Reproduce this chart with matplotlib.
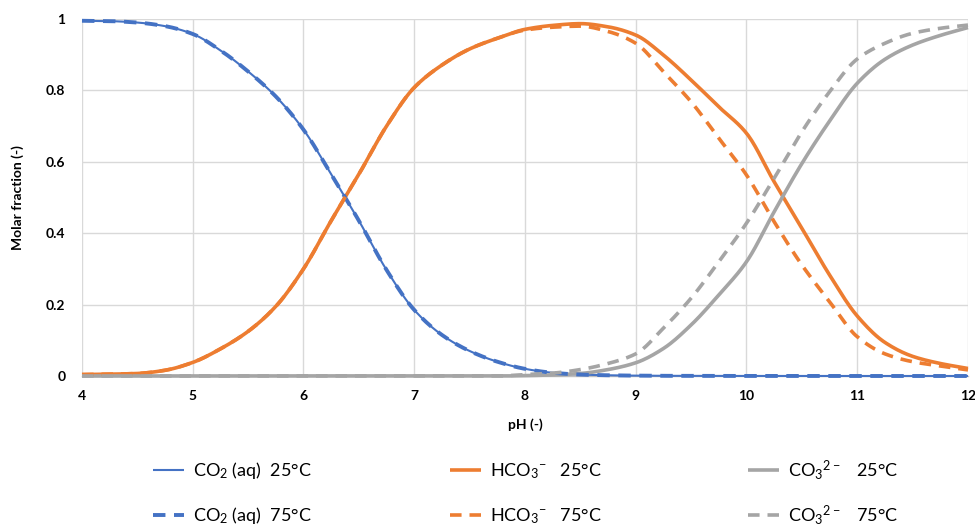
import numpy as np
import matplotlib
matplotlib.use("Agg")
import matplotlib.pyplot as plt
from matplotlib.lines import Line2D

plt.rcParams['font.family'] = ['Lato', 'DejaVu Sans']
plt.rcParams['mathtext.default'] = 'regular'

pH = [4.0, 4.25, 4.5, 4.75, 5.0, 5.25, 5.5, 5.75, 6.0, 6.25, 6.5, 6.75, 7.0, 7.25, 7.5, 7.75,
      8.0, 8.25, 8.5, 8.75, 9.0, 9.25, 9.5, 9.75, 10.0, 10.25, 10.5, 10.75, 11.0, 11.25, 11.5, 11.75, 12.0]

co2_25 = [0.995, 0.994, 0.99, 0.98, 0.958, 0.912, 0.853, 0.783, 0.69, 0.565, 0.435, 0.297, 0.185, 0.115, 0.07, 0.04,
          0.02, 0.009, 0.004, 0.002, 0.001, 0.0005, 0.0003, 0.0002, 0.0001, 0.0, 0.0, 0.0, 0.0, 0.0, 0.0, 0.0, 0.0]
co2_75 = [0.995, 0.994, 0.99, 0.98, 0.958, 0.912, 0.853, 0.783, 0.69, 0.565, 0.435, 0.297, 0.185, 0.115, 0.07, 0.04,
          0.02, 0.009, 0.004, 0.002, 0.001, 0.0005, 0.0003, 0.0002, 0.0001, 0.0, 0.0, 0.0, 0.0, 0.0, 0.0, 0.0, 0.0]
hco3_25 = [0.004, 0.005, 0.007, 0.016, 0.038, 0.076, 0.125, 0.195, 0.30, 0.435, 0.565, 0.70, 0.808, 0.871, 0.916, 0.946,
           0.971, 0.982, 0.987, 0.978, 0.955, 0.899, 0.829, 0.754, 0.68, 0.544, 0.414, 0.283, 0.168, 0.094, 0.055, 0.035, 0.021]
hco3_75 = [0.004, 0.005, 0.007, 0.016, 0.038, 0.076, 0.125, 0.195, 0.30, 0.435, 0.565, 0.70, 0.808, 0.871, 0.916, 0.946,
           0.969, 0.977, 0.98, 0.965, 0.932, 0.852, 0.768, 0.666, 0.563, 0.432, 0.311, 0.208, 0.11, 0.062, 0.04, 0.028, 0.017]
co3_25 = [0.0, 0.0, 0.0, 0.0, 0.0, 0.0, 0.0, 0.0, 0.0, 0.0, 0.0, 0.0, 0.0, 0.0, 0.0, 0.0,
          0.001, 0.003, 0.007, 0.018, 0.037, 0.077, 0.143, 0.227, 0.32, 0.46, 0.595, 0.714, 0.82, 0.887, 0.927, 0.954, 0.976]
co3_75 = [0.0, 0.0, 0.0, 0.0, 0.0, 0.0, 0.0, 0.0, 0.0, 0.0, 0.0, 0.0, 0.0, 0.0, 0.0, 0.0,
          0.004, 0.008, 0.018, 0.035, 0.062, 0.134, 0.218, 0.32, 0.428, 0.554, 0.684, 0.796, 0.888, 0.932, 0.96, 0.974, 0.983]

labels = ["CO$_2$ (aq)  25°C", "CO$_2$ (aq)  75°C",
          "HCO$_3$$^{-}$   25°C", "HCO$_3$$^{-}$   75°C",
          "CO$_3$$^{2-}$   25°C", "CO$_3$$^{2-}$   75°C"]
x_ticks = [4, 5, 6, 7, 8, 9, 10, 11, 12]
y_ticks = [0, 0.2, 0.4, 0.6, 0.8, 1]
y_tick_labels = ["0", "0.2", "0.4", "0.6", "0.8", "1"]

BLUE = "#4472C4"
ORANGE = "#ED7D31"
GRAY = "#A5A5A5"


def smooth(x, y, n=16):
    """Monotone cubic (Fritsch-Carlson) rendering of a smoothed line through the data points."""
    x = np.asarray(x, float)
    y = np.asarray(y, float)
    h = np.diff(x)
    d = np.diff(y) / h
    m = np.zeros_like(y)
    m[0], m[-1] = d[0], d[-1]
    for k in range(1, len(y) - 1):
        if d[k - 1] * d[k] <= 0:
            m[k] = 0.0
        else:
            w1 = 2 * h[k] + h[k - 1]
            w2 = h[k] + 2 * h[k - 1]
            m[k] = (w1 + w2) / (w1 / d[k - 1] + w2 / d[k])
    xs, ys = [], []
    t = np.linspace(0, 1, n, endpoint=False)
    for k in range(len(x) - 1):
        h00 = 2 * t ** 3 - 3 * t ** 2 + 1
        h10 = t ** 3 - 2 * t ** 2 + t
        h01 = -2 * t ** 3 + 3 * t ** 2
        h11 = t ** 3 - t ** 2
        xs.extend(x[k] + t * h[k])
        ys.extend(h00 * y[k] + h10 * h[k] * m[k] + h01 * y[k + 1] + h11 * h[k] * m[k + 1])
    xs.append(x[-1])
    ys.append(y[-1])
    return np.array(xs), np.clip(np.array(ys), 0, 1)


W, H = 975, 526
fig = plt.figure(figsize=(W / 100, H / 100), dpi=100)
ax = fig.add_axes([0.0841, 0.2852, 0.9087, 0.6787])

dash = (3.2, 2.2)
series = [
    (co2_25, BLUE, 1.5, None),
    (hco3_25, ORANGE, 2.6, None),
    (co3_25, GRAY, 2.6, None),
    (co2_75, BLUE, 2.8, dash),
    (hco3_75, ORANGE, 2.6, dash),
    (co3_75, GRAY, 2.6, dash),
]
for i, (vals, col, lw, ds) in enumerate(series):
    xs, ys = smooth(pH, vals)
    ln, = ax.plot(xs, ys, color=col, lw=lw, clip_on=False, zorder=3 + i,
                  solid_capstyle='butt', dash_capstyle='butt')
    if ds:
        ln.set_dashes(ds)

ax.set_xlim(4, 12)
ax.set_ylim(0, 1)
ax.set_xticks(x_ticks)
ax.set_yticks(y_ticks)
ax.set_yticklabels(y_tick_labels)
ax.grid(True, color="#D9D9D9", lw=1.0, zorder=0)
ax.set_axisbelow(True)
for s in ['top', 'right', 'left']:
    ax.spines[s].set_visible(False)
ax.spines['bottom'].set_color('#BFBFBF')
ax.spines['bottom'].set_linewidth(1.0)
ax.tick_params(length=0, labelsize=10, pad=10)
for lab in ax.get_xticklabels() + ax.get_yticklabels():
    lab.set_fontweight('bold')
ax.tick_params(axis='y', pad=12)
ax.set_xlabel("pH (-)", fontsize=10, fontweight='bold', labelpad=12)
ax.set_ylabel("Molar fraction (-)", fontsize=10, fontweight='bold', labelpad=16)

# legend drawn as a fixed 3 x 2 grid (rows: 25°C / 75°C)
styles = [(BLUE, 1.5, None), (BLUE, 2.8, (3.2, 2.2)),
          (ORANGE, 2.6, None), (ORANGE, 2.6, (3.2, 2.2)),
          (GRAY, 2.6, None), (GRAY, 2.6, (3.2, 2.2))]
col_left_px = [153, 450, 748]
row_y_px = [470, 515]
handle_len = 31
for idx, (lab, (col, lw, ds)) in enumerate(zip(labels, styles)):
    c, r = idx // 2, idx % 2
    x0 = col_left_px[c] / W
    x1 = (col_left_px[c] + handle_len) / W
    yy = 1 - row_y_px[r] / H
    ln = Line2D([x0, x1], [yy, yy], transform=fig.transFigure, color=col, lw=lw,
                solid_capstyle='butt', dash_capstyle='butt')
    if ds:
        ln.set_dashes(ds)
    fig.add_artist(ln)
    fig.text((col_left_px[c] + handle_len + 9) / W, 1 - (row_y_px[r] + 6) / H, lab,
             fontsize=13, ha='left', va='baseline')

fig.savefig("out.png", dpi=100)
